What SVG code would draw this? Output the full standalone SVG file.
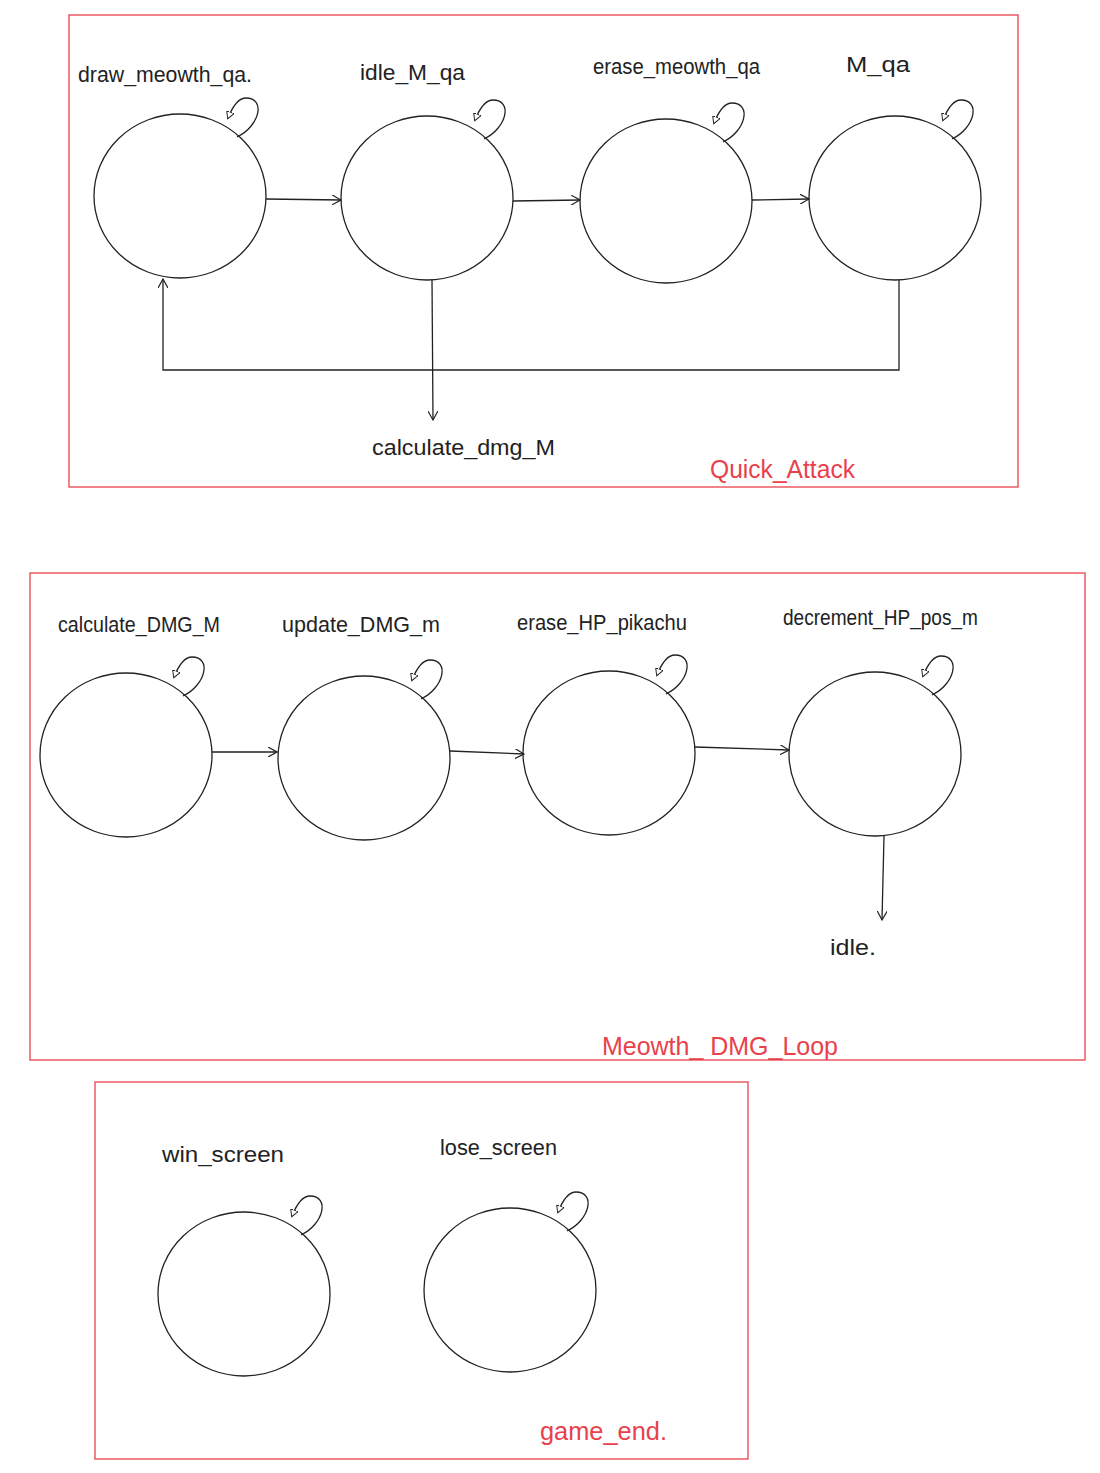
<svg xmlns="http://www.w3.org/2000/svg" width="1100" height="1473" viewBox="0 0 1100 1473">
<style>
.frame{fill:none;stroke:#e8414c;stroke-width:1.3}
.st{fill:#fff;stroke:#222;stroke-width:1.3}
.edge{fill:none;stroke:#222;stroke-width:1.3}
.lbl{font-family:"Liberation Sans","DejaVu Sans",sans-serif;font-size:22px;fill:#222}
.grp{font-family:"Liberation Sans","DejaVu Sans",sans-serif;font-size:26px;fill:#e8414c}
</style>
<defs>
<marker id="arr" viewBox="0 0 10 10" refX="9" refY="5" markerWidth="10" markerHeight="10" markerUnits="userSpaceOnUse" orient="auto">
<path d="M0,0 L9,5 L0,10" fill="none" stroke="#222" stroke-width="1.2"/>
</marker>
<marker id="sarr" viewBox="0 0 10 10" refX="8" refY="5" markerWidth="8" markerHeight="8" markerUnits="userSpaceOnUse" orient="auto">
<path d="M0,0 L9,5 L0,10 Z" fill="#fff" stroke="#222" stroke-width="1.2"/>
</marker>
<path id="selfloop" d="M57,-59 C80,-70 86,-98 66,-98 C58,-98 52,-88 48,-78" fill="none" stroke="#222" stroke-width="1.3" marker-end="url(#sarr)"/>
</defs>
<rect width="1100" height="1473" fill="#fff"/>

<g id="frame-quick-attack">
<rect class="frame" x="69" y="15" width="949" height="472"/>
<text class="grp" x="710" y="478" textLength="145" lengthAdjust="spacingAndGlyphs">Quick_Attack</text>
</g>
<g id="frame-dmg-loop">
<rect class="frame" x="30" y="573" width="1055" height="487"/>
<text class="grp" x="602" y="1055" textLength="236" lengthAdjust="spacingAndGlyphs">Meowth_  DMG_Loop</text>
</g>
<g id="frame-game-end">
<rect class="frame" x="95" y="1082" width="653" height="377"/>
<text class="grp" x="540" y="1440" textLength="127" lengthAdjust="spacingAndGlyphs">game_end.</text>
</g>

<g id="draw_meowth_qa">
<ellipse class="st" cx="180" cy="196" rx="86" ry="82"/>
<use href="#selfloop" x="180" y="196"/>
<text class="lbl" x="78" y="82" textLength="174" lengthAdjust="spacingAndGlyphs">draw_meowth_qa.</text>
</g>
<g id="idle_M_qa">
<ellipse class="st" cx="427" cy="198" rx="86" ry="82"/>
<use href="#selfloop" x="427" y="198"/>
<text class="lbl" x="360" y="80" textLength="105" lengthAdjust="spacingAndGlyphs">idle_M_qa</text>
</g>
<g id="erase_meowth_qa">
<ellipse class="st" cx="666" cy="201" rx="86" ry="82"/>
<use href="#selfloop" x="666" y="201"/>
<text class="lbl" x="593" y="74" textLength="167" lengthAdjust="spacingAndGlyphs">erase_meowth_qa</text>
</g>
<g id="M_qa">
<ellipse class="st" cx="895" cy="198" rx="86" ry="82"/>
<use href="#selfloop" x="895" y="198"/>
<text class="lbl" x="846" y="72" textLength="64" lengthAdjust="spacingAndGlyphs">M_qa</text>
</g>
<g id="calculate_dmg_M">
<text class="lbl" x="372" y="455" textLength="183" lengthAdjust="spacingAndGlyphs">calculate_dmg_M</text>
</g>

<g id="calculate_DMG_M">
<ellipse class="st" cx="126" cy="755" rx="86" ry="82"/>
<use href="#selfloop" x="126" y="755"/>
<text class="lbl" x="58" y="632" textLength="162" lengthAdjust="spacingAndGlyphs">calculate_DMG_M</text>
</g>
<g id="update_DMG_m">
<ellipse class="st" cx="364" cy="758" rx="86" ry="82"/>
<use href="#selfloop" x="364" y="758"/>
<text class="lbl" x="282" y="632" textLength="158" lengthAdjust="spacingAndGlyphs">update_DMG_m</text>
</g>
<g id="erase_HP_pikachu">
<ellipse class="st" cx="609" cy="753" rx="86" ry="82"/>
<use href="#selfloop" x="609" y="753"/>
<text class="lbl" x="517" y="630" textLength="170" lengthAdjust="spacingAndGlyphs">erase_HP_pikachu</text>
</g>
<g id="decrement_HP_pos_m">
<ellipse class="st" cx="875" cy="754" rx="86" ry="82"/>
<use href="#selfloop" x="875" y="754"/>
<text class="lbl" x="783" y="625" textLength="195" lengthAdjust="spacingAndGlyphs">decrement_HP_pos_m</text>
</g>
<g id="idle">
<text class="lbl" x="830" y="955" textLength="46" lengthAdjust="spacingAndGlyphs">idle.</text>
</g>

<g id="win_screen">
<ellipse class="st" cx="244" cy="1294" rx="86" ry="82"/>
<use href="#selfloop" x="244" y="1294"/>
<text class="lbl" x="162" y="1162" textLength="122" lengthAdjust="spacingAndGlyphs">win_screen</text>
</g>
<g id="lose_screen">
<ellipse class="st" cx="510" cy="1290" rx="86" ry="82"/>
<use href="#selfloop" x="510" y="1290"/>
<text class="lbl" x="440" y="1155" textLength="117" lengthAdjust="spacingAndGlyphs">lose_screen</text>
</g>

<g id="connectors">
<line class="edge" x1="266" y1="199" x2="341" y2="200" marker-end="url(#arr)"/>
<line class="edge" x1="513" y1="201" x2="580" y2="200" marker-end="url(#arr)"/>
<line class="edge" x1="752" y1="200" x2="809" y2="199" marker-end="url(#arr)"/>
<polyline class="edge" points="899,280 899,370 163,370 163,279" marker-end="url(#arr)"/>
<line class="edge" x1="432" y1="280" x2="433" y2="420" marker-end="url(#arr)"/>
<line class="edge" x1="212" y1="752" x2="277" y2="752" marker-end="url(#arr)"/>
<line class="edge" x1="450" y1="751" x2="524" y2="754" marker-end="url(#arr)"/>
<line class="edge" x1="695" y1="747" x2="789" y2="750" marker-end="url(#arr)"/>
<line class="edge" x1="884" y1="836" x2="882" y2="920" marker-end="url(#arr)"/>
</g>
</svg>
